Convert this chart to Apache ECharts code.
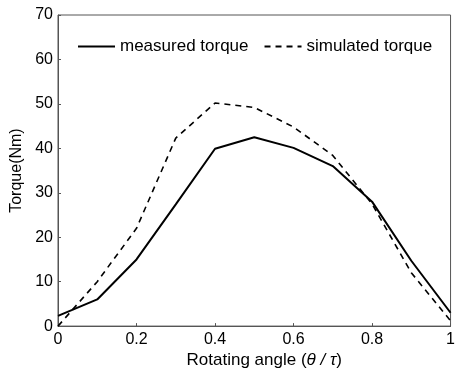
<!DOCTYPE html>
<html>
<head>
<meta charset="utf-8">
<script src="https://cdn.jsdelivr.net/npm/echarts@6/dist/echarts.min.js"></script>
<style>html,body{margin:0;padding:0;background:#fff;}#c{width:458px;height:374px;}</style>
</head>
<body>
<div id="c"></div>
<script>
var angles = [0, 0.1, 0.2, 0.3, 0.4, 0.5, 0.6, 0.7, 0.8, 0.9, 1.0];
var measured = [2.3, 6.0, 15.0, 27.4, 39.9, 42.5, 40.1, 36.0, 28.0, 14.7, 3.0];
var simulated = [0.0, 10.0, 22.0, 42.3, 50.2, 49.2, 44.8, 38.4, 27.5, 12.0, 1.2];
var xTicks = [0, 0.2, 0.4, 0.6, 0.8, 1];
var yTicks = [0, 10, 20, 30, 40, 50, 60, 70];

function pairs(xs, ys){ return xs.map(function(x,i){ return [x, ys[i]]; }); }

var chart = echarts.init(document.getElementById('c'));
var font = 'Liberation Sans, Arial, sans-serif';
chart.setOption({
  animation: false,
  backgroundColor: '#fff',
  grid: { left: 58, right: 4, top: 15, bottom: 47, show: true, borderColor: '#555', borderWidth: 1 },
  legend: {
    left: 72, top: 33, itemWidth: 37, itemHeight: 12, itemGap: 15,
    itemStyle: { color: 'rgba(0,0,0,0)', borderColor: 'rgba(0,0,0,0)', borderWidth: 0 },
    textStyle: { fontFamily: font, fontSize: 17, color: '#000' },
    data: ['measured torque', 'simulated torque']
  },
  xAxis: {
    type: 'value', min: 0, max: 1, interval: 0.2,
    name: '{a|Rotating angle (}{i|θ / τ}{a|)}', nameLocation: 'middle', nameGap: 25,
    nameTextStyle: { padding: [0, 0, 0, 20], rich: { a: { fontFamily: font, fontSize: 17, color: '#000' }, i: { fontFamily: font, fontSize: 17, fontStyle: 'italic', color: '#000' } } },
    axisLine: { show: true, lineStyle: { color: '#555' } },
    axisTick: { show: true, inside: true, length: 3, lineStyle: { color: '#555' } },
    splitLine: { show: false },
    axisLabel: { fontFamily: font, fontSize: 16, color: '#000', margin: 5,
      formatter: function(v){ return xTicks.indexOf(+v.toFixed(1)) >= 0 ? String(+v.toFixed(1)) : ''; } }
  },
  yAxis: {
    type: 'value', min: 0, max: 70, interval: 10,
    name: 'Torque(Nm)', nameLocation: 'middle', nameGap: 29,
    nameTextStyle: { fontFamily: font, fontSize: 16, color: '#000' },
    axisLine: { show: true, lineStyle: { color: '#555' } },
    axisTick: { show: true, inside: true, length: 3, lineStyle: { color: '#555' } },
    splitLine: { show: false },
    axisLabel: { fontFamily: font, fontSize: 16, color: '#000', margin: 5,
      formatter: function(v){ return yTicks.indexOf(v) >= 0 ? String(v) : ''; } }
  },
  series: [
    { name: 'measured torque', type: 'line', data: pairs(angles, measured), showSymbol: false, symbol: 'none',
      lineStyle: { color: '#000', width: 2 }, itemStyle: { color: '#000' } },
    { name: 'simulated torque', type: 'line', data: pairs(angles, simulated), showSymbol: false, symbol: 'none',
      lineStyle: { color: '#000', width: 1.6, type: [6, 5] }, itemStyle: { color: '#000' } }
  ]
});
</script>
</body>
</html>
